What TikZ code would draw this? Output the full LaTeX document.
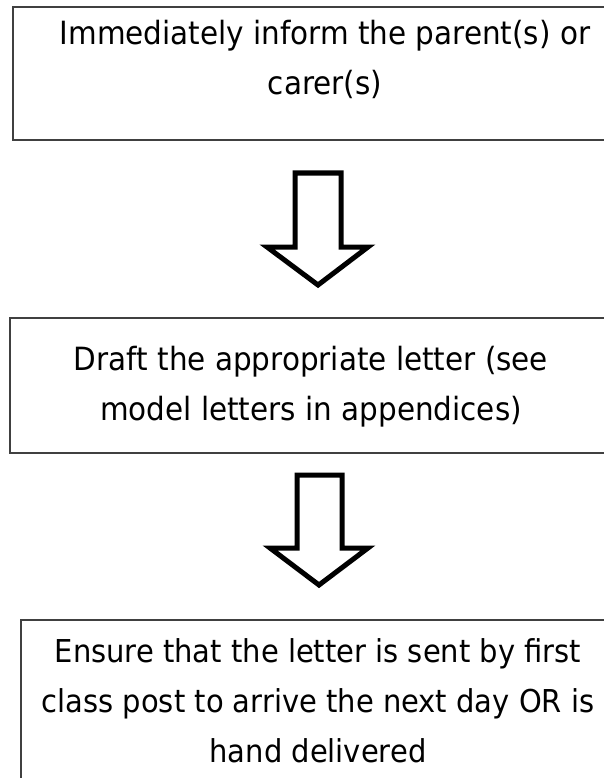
\documentclass[tikz,border=0pt]{standalone}
\usepackage{fontspec}
\setmainfont[FakeStretch=0.92]{DejaVu Sans}
\begin{document}
\begin{tikzpicture}[x=1pt,y=-1pt,
  box/.style={draw=black!75,line width=1.5pt},
  txt/.style={font=\fontsize{32}{50}\selectfont,align=center,anchor=base,inner sep=0pt},
  blockarrow/.style={draw=black,line width=5pt,fill=white,line join=miter}]
\useasboundingbox (0,0) rectangle (603,778);
% boxes
\draw[box] (640,7) -- (13,7) -- (13,140) -- (640,140);
\node[txt] (t1) at (325,95) {Immediately inform the parent(s) or\\carer(s)};
\draw[box] (640,318) -- (10,318) -- (10,453) -- (640,453);
\node[txt] (t2) at (311,420) {Draft the appropriate letter (see\\model letters in appendices)};
\draw[box] (640,620) -- (21,620) -- (21,800);
\node[txt,font=\fontsize{31.5}{50}\selectfont] (t3) at (318,762) {Ensure that the letter is sent by first\\class post to arrive the next day OR is\\hand delivered};
% arrows
\draw[blockarrow] (295,173) -- (341,173) -- (341,247) -- (368,247) -- (318,285) -- (267,247) -- (295,247) -- cycle;
\draw[blockarrow] (297,475) -- (342,475) -- (342,548) -- (368,548) -- (319,585) -- (270,548) -- (297,548) -- cycle;
\end{tikzpicture}
\end{document}
